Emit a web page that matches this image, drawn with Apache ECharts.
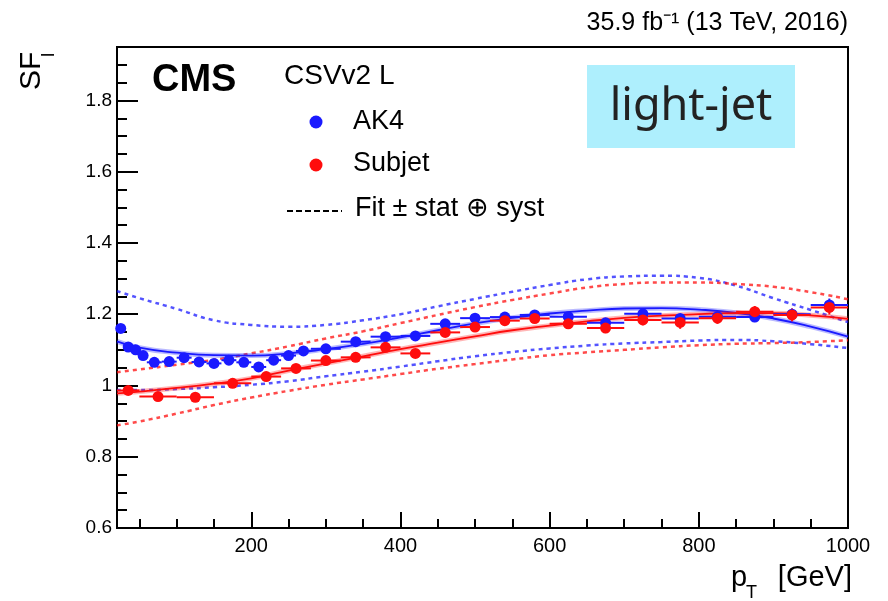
<!DOCTYPE html>
<html>
<head>
<meta charset="utf-8">
<script src="https://cdn.jsdelivr.net/npm/echarts@6/dist/echarts.min.js"></script>
<style>
  html, body { margin: 0; padding: 0; background: #fff; }
  #chart { width: 888px; height: 601px; }
</style>
</head>
<body>
<div id="chart"></div>
<script>
// AK4 jets: bin edges in pT [GeV], measured scale factor and its uncertainty
const ak4Edges = [20, 30, 40, 50, 60, 80, 100, 120, 140, 160, 180, 200, 220, 240, 260, 280,
                  320, 360, 400, 440, 480, 520, 560, 600, 650, 700, 750, 800, 850, 900, 950, 1000];
const ak4SF = [1.160, 1.108, 1.100, 1.084, 1.065, 1.067, 1.078, 1.066, 1.062, 1.071, 1.065,
               1.052, 1.071, 1.084, 1.097, 1.103, 1.123, 1.137, 1.139, 1.173, 1.189, 1.192,
               1.198, 1.193, 1.176, 1.201, 1.188, 1.193, 1.192, 1.200, 1.226];
const ak4Err = [0.006, 0.004, 0.004, 0.004, 0.003, 0.003, 0.003, 0.003, 0.003, 0.003, 0.004,
                0.004, 0.004, 0.004, 0.004, 0.004, 0.005, 0.005, 0.006, 0.006, 0.007, 0.008,
                0.008, 0.009, 0.010, 0.011, 0.012, 0.013, 0.014, 0.016, 0.018];

// Subjets
const subjetEdges = [20, 50, 100, 150, 200, 240, 280, 320, 360, 400, 440, 480, 520, 560, 600,
                     650, 700, 750, 800, 850, 900, 950, 1000];
const subjetSF = [0.986, 0.969, 0.967, 1.006, 1.025, 1.048, 1.070, 1.079, 1.107, 1.090, 1.149,
                  1.164, 1.182, 1.188, 1.173, 1.161, 1.184, 1.177, 1.189, 1.207, 1.198, 1.219];
const subjetErr = [0.008, 0.006, 0.007, 0.008, 0.008, 0.008, 0.008, 0.009, 0.009, 0.010, 0.010,
                   0.011, 0.011, 0.012, 0.013, 0.014, 0.015, 0.018, 0.016, 0.016, 0.018, 0.020];

// Fit functions sampled along pT, with the stat (+) syst envelopes
const fitPt = [20, 50, 100, 150, 200, 250, 300, 350, 400, 450, 500, 550, 600, 650, 700, 750,
               800, 850, 900, 950, 1000];
const ak4Fit  = [1.124, 1.106, 1.092, 1.085, 1.084, 1.090, 1.102, 1.117, 1.135, 1.155, 1.174,
                 1.190, 1.202, 1.210, 1.216, 1.217, 1.213, 1.204, 1.188, 1.165, 1.137];
const ak4Up   = [1.265, 1.245, 1.215, 1.183, 1.170, 1.165, 1.170, 1.183, 1.200, 1.222, 1.243,
                 1.263, 1.282, 1.298, 1.306, 1.308, 1.302, 1.280, 1.245, 1.212, 1.178];
const ak4Down = [0.987, 0.987, 0.990, 0.995, 1.002, 1.012, 1.026, 1.039, 1.053, 1.068, 1.082,
                 1.094, 1.104, 1.112, 1.118, 1.122, 1.126, 1.128, 1.124, 1.116, 1.105];
const subjetFit  = [0.978, 0.983, 0.993, 1.005, 1.020, 1.042, 1.062, 1.082, 1.102, 1.120, 1.138,
                    1.155, 1.168, 1.180, 1.190, 1.196, 1.200, 1.203, 1.203, 1.197, 1.187];
const subjetUp   = [1.037, 1.045, 1.058, 1.072, 1.090, 1.110, 1.132, 1.152, 1.175, 1.198, 1.220,
                    1.240, 1.258, 1.275, 1.285, 1.289, 1.289, 1.285, 1.277, 1.262, 1.242];
const subjetDown = [0.888, 0.899, 0.921, 0.945, 0.966, 0.985, 1.002, 1.017, 1.032, 1.047, 1.060,
                    1.073, 1.085, 1.093, 1.100, 1.107, 1.113, 1.117, 1.119, 1.122, 1.127];

// Axis ticks and labels
const xMajorTicks = [200, 400, 600, 800, 1000];
const xMinorTicks = [50, 100, 150, 250, 300, 350, 450, 500, 550, 650, 700, 750, 850, 900, 950];
const yMajorTicks = [0.6, 0.8, 1.0, 1.2, 1.4, 1.6, 1.8];
const yMinorTicks = [0.65, 0.7, 0.75, 0.85, 0.9, 0.95, 1.05, 1.1, 1.15, 1.25, 1.3, 1.35,
                     1.45, 1.5, 1.55, 1.65, 1.7, 1.75, 1.85, 1.9];

const BLUE = '#1a1aff';
const RED = '#ff0d0d';
const FONT = '"Liberation Sans", Arial, sans-serif';

const zip = (xs, ys) => xs.map((x, i) => [x, ys[i]]);
const centers = (edges) => edges.slice(0, -1).map((e, i) => (e + edges[i + 1]) / 2);

function dashed(data, color) {
  return {
    type: 'line', data: zip(fitPt, data), smooth: true, symbol: 'none', silent: true, z: 1,
    lineStyle: { color, width: 2.5, type: [4, 4], opacity: 0.75 }
  };
}
function fitLine(data, color, width, opacity) {
  return {
    type: 'line', data: zip(fitPt, data), smooth: true, symbol: 'none', silent: true, z: 2,
    lineStyle: { color, width, opacity }
  };
}
function errorBars(edges, vals, errs, color) {
  return {
    type: 'custom', z: 3, silent: true,
    data: vals.map((v, i) => [edges[i], edges[i + 1], v, errs[i]]),
    encode: { x: [0, 1], y: 2 },
    renderItem: (params, api) => {
      const lo = api.value(0), hi = api.value(1), y = api.value(2), e = api.value(3);
      const c = (lo + hi) / 2;
      const a = api.coord([lo, y]), b = api.coord([hi, y]);
      const t = api.coord([c, y + e]), d = api.coord([c, y - e]);
      return {
        type: 'group',
        children: [
          { type: 'line', shape: { x1: a[0], y1: a[1], x2: b[0], y2: b[1] }, style: { stroke: color, lineWidth: 2 } },
          { type: 'line', shape: { x1: t[0], y1: t[1], x2: d[0], y2: d[1] }, style: { stroke: color, lineWidth: 2 } }
        ]
      };
    }
  };
}
function points(edges, vals, color) {
  return {
    type: 'scatter', data: zip(centers(edges), vals), symbol: 'circle', symbolSize: 11, z: 4,
    itemStyle: { color, opacity: 1 }
  };
}

const gridBox = { left: 117, right: 40, top: 47, bottom: 73 };

const chart = echarts.init(document.getElementById('chart'), null, { renderer: 'canvas' });
chart.setOption({
  animation: false,
  backgroundColor: '#fff',
  grid: Object.assign({ show: true, borderColor: '#000', borderWidth: 2, backgroundColor: 'transparent' }, gridBox),
  xAxis: [
    {
      type: 'value', min: 20, max: 1000, position: 'bottom',
      axisLine: { show: true, lineStyle: { color: '#000', width: 2 } },
      axisTick: { show: true, inside: true, length: 16, customValues: xMajorTicks, lineStyle: { color: '#000', width: 2 } },
      axisLabel: { show: true, customValues: xMajorTicks, color: '#000', fontSize: 20, fontFamily: FONT, margin: 8,
                   formatter: (v) => String(Math.round(v)) },
      splitLine: { show: false }
    },
    {
      type: 'value', min: 20, max: 1000, position: 'bottom',
      axisLine: { show: false },
      axisTick: { show: true, inside: true, length: 9, customValues: xMinorTicks, lineStyle: { color: '#000', width: 2 } },
      axisLabel: { show: false },
      splitLine: { show: false }
    }
  ],
  yAxis: [
    {
      type: 'value', min: 0.6, max: 1.95, position: 'left',
      axisLine: { show: true, lineStyle: { color: '#000', width: 2 } },
      axisTick: { show: true, inside: true, length: 21, customValues: yMajorTicks, lineStyle: { color: '#000', width: 2 } },
      axisLabel: { show: true, customValues: yMajorTicks, color: '#000', fontSize: 19, fontFamily: FONT, margin: 5,
                   formatter: (v) => String(Math.round(v * 10) / 10) },
      splitLine: { show: false }
    },
    {
      type: 'value', min: 0.6, max: 1.95, position: 'left',
      axisLine: { show: false },
      axisTick: { show: true, inside: true, length: 10, customValues: yMinorTicks, lineStyle: { color: '#000', width: 2 } },
      axisLabel: { show: false },
      splitLine: { show: false }
    }
  ],
  series: [
    dashed(ak4Up, BLUE), dashed(ak4Down, BLUE),
    dashed(subjetUp, RED), dashed(subjetDown, RED),
    fitLine(ak4Fit, BLUE, 5, 0.3), fitLine(ak4Fit, BLUE, 1.8, 1),
    fitLine(subjetFit, RED, 5, 0.3), fitLine(subjetFit, RED, 1.8, 1),
    errorBars(ak4Edges, ak4SF, ak4Err, BLUE),
    errorBars(subjetEdges, subjetSF, subjetErr, RED),
    points(ak4Edges, ak4SF, BLUE),
    points(subjetEdges, subjetSF, RED)
  ],
  graphic: [
    // luminosity / energy header
    { type: 'text', x: 848, y: 23, style: { text: '35.9 fb\u207B\u00B9 (13 TeV, 2016)', fill: '#000', font: '25px ' + FONT, align: 'right', verticalAlign: 'middle' } },
    // y axis title, SF with subscript l
    { type: 'text', x: 32, y: 90, rotation: Math.PI / 2,
      style: { text: 'SF', fill: '#000', font: '30px ' + FONT, align: 'left', verticalAlign: 'middle' } },
    { type: 'text', x: 49, y: 57, rotation: Math.PI / 2,
      style: { text: 'l', fill: '#000', font: '19px ' + FONT, align: 'left', verticalAlign: 'middle' } },
    // x axis title, p_T [GeV]
    { type: 'text', x: 731, y: 578, style: { text: 'p', fill: '#000', font: '29px ' + FONT, verticalAlign: 'middle' } },
    { type: 'text', x: 746, y: 593, style: { text: 'T', fill: '#000', font: '18px ' + FONT, verticalAlign: 'middle' } },
    { type: 'text', x: 852, y: 578, style: { text: '[GeV]', fill: '#000', font: '29px ' + FONT, align: 'right', verticalAlign: 'middle' } },
    // experiment label
    { type: 'text', x: 152, y: 81, style: { text: 'CMS', fill: '#000', font: 'bold 38px ' + FONT, verticalAlign: 'middle' } },
    // legend
    { type: 'text', x: 284, y: 76, style: { text: 'CSVv2 L', fill: '#000', font: '28px ' + FONT, verticalAlign: 'middle' } },
    { type: 'circle', shape: { cx: 316, cy: 122, r: 6.5 }, style: { fill: BLUE } },
    { type: 'text', x: 353, y: 122, style: { text: 'AK4', fill: '#000', font: '27px ' + FONT, verticalAlign: 'middle' } },
    { type: 'circle', shape: { cx: 316, cy: 165, r: 6.5 }, style: { fill: RED } },
    { type: 'text', x: 353, y: 164, style: { text: 'Subjet', fill: '#000', font: '27px ' + FONT, verticalAlign: 'middle' } },
    { type: 'line', shape: { x1: 287, y1: 211, x2: 342, y2: 211 }, style: { stroke: '#000', lineWidth: 2, lineDash: [6, 3] } },
    { type: 'text', x: 355, y: 209, style: { text: 'Fit \u00B1 stat \u2295 syst', fill: '#000', font: '27px ' + FONT, verticalAlign: 'middle' } },
    // category tag
    { type: 'rect', shape: { x: 587, y: 65, width: 208, height: 83 }, style: { fill: '#aeeffd' } },
    { type: 'text', x: 691, y: 107, style: { text: 'light-jet', fill: '#222', font: '45px "Noto Sans", sans-serif', align: 'center', verticalAlign: 'middle' } }
  ]
});
</script>
</body>
</html>
